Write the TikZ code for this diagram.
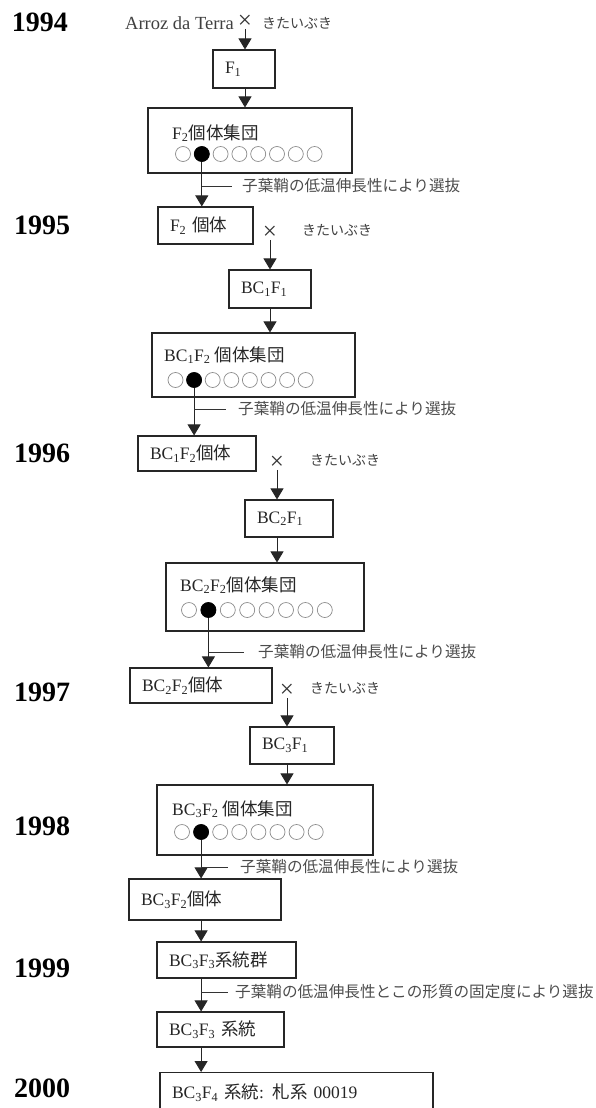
\documentclass[tikz,border=0pt]{standalone}
\usepackage{fontspec}
\setmainfont{Liberation Serif}
\newfontfamily\jp{Noto Sans CJK JP}
\usetikzlibrary{arrows.meta}
\tikzset{gen box/.style={draw=black!85,line width=1.1pt,rectangle,inner xsep=12pt,inner ysep=0pt,align=left,text=black!85,font=\fontsize{17.5}{20}\selectfont}}
\tikzset{pop box/.style={draw=black!85,line width=1.1pt,rectangle,inner sep=0pt}}
\tikzset{pop title/.style={anchor=west,inner sep=0pt,text=black!85,font=\fontsize{17.5}{20}\selectfont}}
\tikzset{year label/.style={inner sep=0pt,font=\fontsize{28}{30}\selectfont\bfseries}}
\tikzset{sel label/.style={anchor=west,inner sep=0pt,text=black!70,font=\jp\fontsize{15.6}{18}\selectfont}}
\tikzset{cross label/.style={inner sep=0pt,text=black!80,font=\fontsize{25}{26}\selectfont}}
\tikzset{parent label/.style={inner sep=0pt,text=black!75,font=\fontsize{14}{16}\selectfont}}
\tikzset{seed/.style={circle,draw=black!45,line width=0.7pt,minimum size=15pt,inner sep=0pt}}
\tikzset{picked/.style={seed,draw=black,fill=black}}
\tikzset{flow/.style={-{Triangle[width=13pt,length=11pt]},line width=0.9pt,black!85}}
\tikzset{sel tick/.style={line width=0.9pt,black!80}}

\begin{document}
\begin{tikzpicture}[x=1pt,y=-1pt]

  \useasboundingbox (0,0) rectangle (596,1108);
  \clip (0,0) rectangle (596,1108);

  % years
  \node[year label] (y1994) at (40,22)   {1994};
  \node[year label] (y1995) at (42,225)  {1995};
  \node[year label] (y1996) at (42,453)  {1996};
  \node[year label] (y1997) at (42,692)  {1997};
  \node[year label] (y1998) at (42,826)  {1998};
  \node[year label] (y1999) at (42,968)  {1999};
  \node[year label] (y2000) at (42,1088) {2000};

  % 1994
  \node[cross label] (x1994) at (245,22) {×};
  \node[parent label, anchor=east, font=\fontsize{18.5}{20}\selectfont] (arroz) at (234,23) {Arroz da Terra};
  \node[parent label, anchor=west] (kita1994) at (262,23) {\jp きたいぶき};
  \node[gen box, text width=38pt, minimum height=38pt] (f1) at (244,69) {F\textsubscript{1}};
  \node[pop box, minimum width=204pt, minimum height=65pt] (f2pop) at (250,140.5) {};
  \node[pop title] (f2title) at (172,133) {F\textsubscript{2}{\jp 個体集団}};
  \foreach \i in {1,...,8}
    \node[seed] (f2s\i) at ({183+18.8*(\i-1)},154) {};
  \node[picked] (f2pick) at (f2s2) {};
  \node[sel label] (sel1) at (242,186) {子葉鞘の低温伸長性により選抜};
  \node[gen box, text width=71pt, minimum height=37pt] (f2ind) at (205.5,225.5) {F\textsubscript{2} {\jp 個体}};

  \draw[flow] (x1994.south) -- (x1994 |- f1.north);
  \draw[flow] (x1994 |- f1.south) -- (x1994 |- f2pop.north);
  \draw[flow] (f2pick.south) -- (f2pick |- f2ind.north);
  \draw[sel tick] (f2pick |- sel1.west) -- ([xshift=-10pt]sel1.west);

  % 1995
  \node[cross label] (x1995) at (270,233) {×};
  \node[parent label, anchor=west] (kita1995) at (302,230) {\jp きたいぶき};
  \node[gen box, text width=58pt, minimum height=38pt] (bc1f1) at (270,289) {BC\textsubscript{1}F\textsubscript{1}};
  \node[pop box, minimum width=203pt, minimum height=64pt] (bc1f2pop) at (253.5,365) {};
  \node[pop title] (bc1f2title) at (164,355) {BC\textsubscript{1}F\textsubscript{2} {\jp 個体集団}};
  \foreach \i in {1,...,8}
    \node[seed] (bc1s\i) at ({175.5+18.6*(\i-1)},380) {};
  \node[picked] (bc1pick) at (bc1s2) {};
  \node[sel label] (sel2) at (238,409) {子葉鞘の低温伸長性により選抜};
  \node[gen box, text width=94pt, minimum height=35pt] (bc1f2ind) at (197,453.5) {BC\textsubscript{1}F\textsubscript{2}{\jp 個体}};

  \draw[flow] (x1995.south) -- (x1995 |- bc1f1.north);
  \draw[flow] (x1995 |- bc1f1.south) -- (x1995 |- bc1f2pop.north);
  \draw[flow] (bc1pick.south) -- (bc1pick |- bc1f2ind.north);
  \draw[sel tick] (bc1pick |- sel2.west) -- ([xshift=-12pt]sel2.west);

  % 1996
  \node[cross label] (x1996) at (277,463) {×};
  \node[parent label, anchor=west] (kita1996) at (310,460) {\jp きたいぶき};
  \node[gen box, text width=64pt, minimum height=37pt] (bc2f1) at (289,518.5) {BC\textsubscript{2}F\textsubscript{1}};
  \node[pop box, minimum width=198pt, minimum height=68pt] (bc2f2pop) at (265,597) {};
  \node[pop title] (bc2f2title) at (180,585) {BC\textsubscript{2}F\textsubscript{2}{\jp 個体集団}};
  \foreach \i in {1,...,8}
    \node[seed] (bc2s\i) at ({189+19.4*(\i-1)},610) {};
  \node[picked] (bc2pick) at (bc2s2) {};
  \node[sel label] (sel3) at (258,652) {子葉鞘の低温伸長性により選抜};
  \node[gen box, text width=118pt, minimum height=35pt] (bc2f2ind) at (201,685.5) {BC\textsubscript{2}F\textsubscript{2}{\jp 個体}};

  \draw[flow] (x1996.south) -- (x1996 |- bc2f1.north);
  \draw[flow] (x1996 |- bc2f1.south) -- (x1996 |- bc2f2pop.north);
  \draw[flow] (bc2pick.south) -- (bc2pick |- bc2f2ind.north);
  \draw[sel tick] (bc2pick |- sel3.west) -- ([xshift=-14pt]sel3.west);

  % 1997 - 1998
  \node[cross label] (x1997) at (287,691) {×};
  \node[parent label, anchor=west] (kita1997) at (310,688) {\jp きたいぶき};
  \node[gen box, text width=60pt, minimum height=37pt] (bc3f1) at (292,745.5) {BC\textsubscript{3}F\textsubscript{1}};
  \node[pop box, minimum width=216pt, minimum height=70pt] (bc3f2pop) at (265,820) {};
  \node[pop title] (bc3f2title) at (172,809) {BC\textsubscript{3}F\textsubscript{2} {\jp 個体集団}};
  \foreach \i in {1,...,8}
    \node[seed] (bc3s\i) at ({182+19.1*(\i-1)},832) {};
  \node[picked] (bc3pick) at (bc3s2) {};
  \node[sel label] (sel4) at (240,867) {子葉鞘の低温伸長性により選抜};
  \node[gen box, text width=128pt, minimum height=41pt] (bc3f2ind) at (205,899.5) {BC\textsubscript{3}F\textsubscript{2}{\jp 個体}};

  \draw[flow] (x1997.south) -- (x1997 |- bc3f1.north);
  \draw[flow] (x1997 |- bc3f1.south) -- (x1997 |- bc3f2pop.north);
  \draw[flow] (bc3pick.south) -- (bc3pick |- bc3f2ind.north);
  \draw[sel tick] (bc3pick |- sel4.west) -- ([xshift=-12pt]sel4.west);

  % 1999 - 2000
  \node[gen box, text width=115pt, minimum height=36pt] (bc3f3grp) at (226.5,960) {BC\textsubscript{3}F\textsubscript{3}{\jp 系統群}};
  \node[sel label] (sel5) at (235,992) {子葉鞘の低温伸長性とこの形質の固定度により選抜};
  \node[gen box, text width=103pt, minimum height=35pt] (bc3f3) at (220.5,1029.5) {BC\textsubscript{3}F\textsubscript{3} {\jp 系統}};
  \node[gen box, text width=249pt, minimum height=40pt, anchor=north] (bc3f4) at (296.5,1072) {BC\textsubscript{3}F\textsubscript{4} {\jp 系統}: {\jp 札系} 00019};

  \draw[flow] (bc3pick |- bc3f2ind.south) -- (bc3pick |- bc3f3grp.north);
  \draw[flow] (bc3pick |- bc3f3grp.south) -- (bc3pick |- bc3f3.north);
  \draw[flow] (bc3pick |- bc3f3.south) -- (bc3pick |- bc3f4.north);
  \draw[sel tick] (bc3pick |- sel5.west) -- ([xshift=-7pt]sel5.west);

\end{tikzpicture}
\end{document}
